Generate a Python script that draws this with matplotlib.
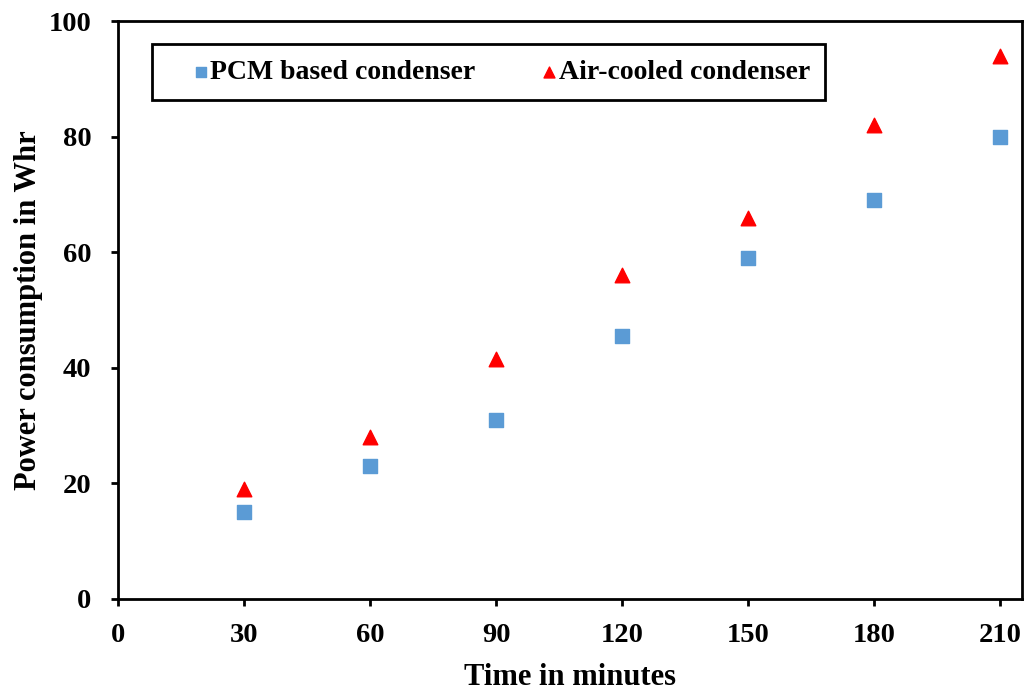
import matplotlib.pyplot as plt

# data
time_min = [30, 60, 90, 120, 150, 180, 210]
pcm_power = [15, 23, 31, 45.5, 59, 69, 80]
air_power = [19, 28, 41.5, 56, 66, 82, 94]
x_ticks = [0, 30, 60, 90, 120, 150, 180, 210]
y_ticks = [0, 20, 40, 60, 80, 100]

plt.rcParams['font.family'] = 'Liberation Serif'
plt.rcParams['font.weight'] = 'bold'

fig = plt.figure(figsize=(10.29, 6.94), dpi=100)
ax = fig.add_axes([118 / 1029, 1 - 599 / 694, 904 / 1029, 578 / 694])

ax.scatter(time_min, pcm_power, marker='s', s=90, color='#5B9BD5',
           label='PCM based condenser', zorder=3)
ax.scatter(time_min, air_power, marker='^', s=110, color='#FF0000',
           label='Air-cooled condenser', zorder=3)

ax.set_xlim(0, 215.2)
ax.set_ylim(0, 100)
ax.set_xticks(x_ticks)
ax.set_yticks(y_ticks)
ax.tick_params(direction='out', length=5, width=2, labelsize=20.5)
ax.tick_params(axis='x', pad=12)
ax.tick_params(axis='y', pad=14)
for sp in ax.spines.values():
    sp.set_linewidth(2)

ax.set_xlabel('Time in minutes', fontsize=22, fontweight='bold', labelpad=11)
ax.set_ylabel('Power consumption in Whr', fontsize=22, fontweight='bold', labelpad=4)

# marker sits at the right end of a long handle, text right after it
leg = ax.legend(loc='upper left', bbox_to_anchor=(0.0376, 0.96, 0.745, 0.0), ncol=2,
                mode='expand', fontsize=20, frameon=True, fancybox=False,
                handlelength=2.4, handletextpad=-0.85, markerscale=0.75,
                borderpad=0.55, columnspacing=1.2, borderaxespad=0)
leg.get_frame().set_edgecolor('black')
leg.get_frame().set_linewidth(2)
leg.get_frame().set_alpha(1)

fig.savefig('out.png', dpi=100)
